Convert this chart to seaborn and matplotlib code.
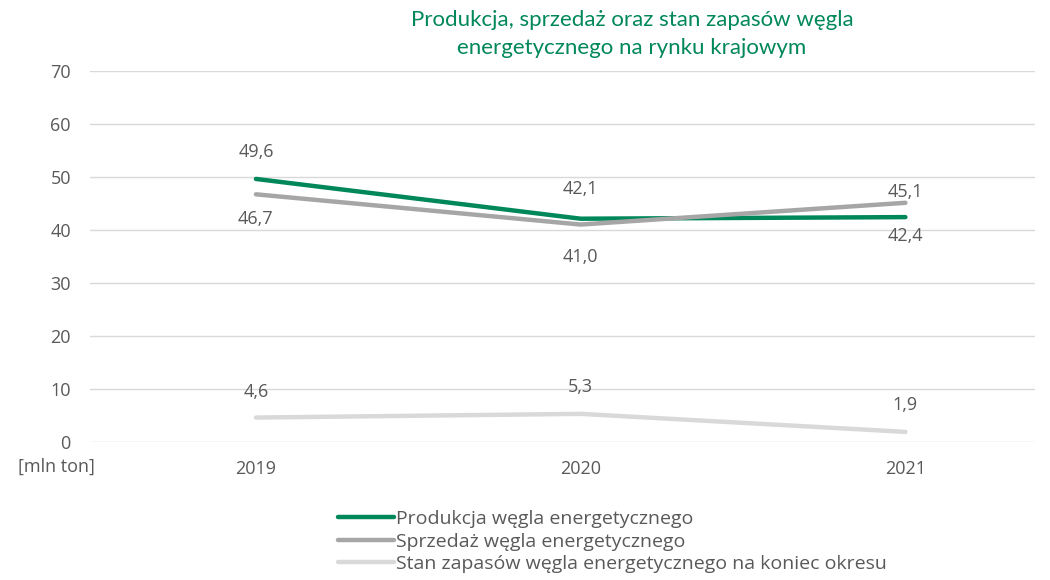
import seaborn as sns
import matplotlib.pyplot as plt
import pandas as pd

# Data
lata = ["2019", "2020", "2021"]
produkcja = [49.6, 42.1, 42.4]
sprzedaz = [46.7, 41.0, 45.1]
zapasy = [4.6, 5.3, 1.9]

serie = ["Produkcja węgla energetycznego",
         "Sprzedaż węgla energetycznego",
         "Stan zapasów węgla energetycznego na koniec okresu"]
kolory = ["#00875A", "#A6A6A6", "#D9D9D9"]

df = pd.DataFrame({
    "rok": lata * 3,
    "wartosc": produkcja + sprzedaz + zapasy,
    "seria": [serie[0]] * 3 + [serie[1]] * 3 + [serie[2]] * 3,
})

sns.set_style("white")
plt.rcParams["font.family"] = ["Open Sans", "DejaVu Sans"]
txt = "#595959"
fs = 13

fig = plt.figure(figsize=(10.5, 5.8), dpi=100)
ax = fig.add_axes([0.086, 0.238, 0.9, 0.64])

sns.lineplot(data=df, x="rok", y="wartosc", hue="seria", palette=kolory,
             linewidth=3.2, ax=ax, sort=False)

# Data labels (above / below the point)
offsets = {0: [13, 15, -7], 1: [-11, -17, 1], 2: [12, 13, 13]}
for i, vals in enumerate([produkcja, sprzedaz, zapasy]):
    for j, v in enumerate(vals):
        off = offsets[i][j]
        ax.annotate(f"{v:.1f}".replace(".", ","), (j, v), xytext=(0, off),
                    textcoords="offset points", ha="center",
                    va="bottom" if off > 0 else "top", fontsize=fs, color=txt)

ax.set_xlim(-0.51, 2.4)
ax.set_ylim(0, 70)
ax.set_yticks(range(0, 71, 10))
ax.yaxis.grid(True, color="#D9D9D9", linewidth=1)
ax.set_axisbelow(True)
for s in ax.spines.values():
    s.set_visible(False)
ax.tick_params(axis="both", length=0, labelsize=fs, colors=txt)
ax.tick_params(axis="y", pad=14)
ax.tick_params(axis="x", pad=13)
ax.set_xlabel("")
ax.set_ylabel("")
fig.text(0.054, 0.196, "[mln ton]", ha="center", va="center", fontsize=fs, color=txt)

fig.suptitle("Produkcja, sprzedaż oraz stan zapasów węgla\nenergetycznego na rynku krajowym",
             x=0.602, y=0.982, fontsize=16, color="#00875A", linespacing=1.45,
             family=["Lato", "DejaVu Sans"])

ax.legend(loc="upper left", bbox_to_anchor=(0.262, -0.183), frameon=False,
          borderaxespad=0, borderpad=0,
          handlelength=2.9, handletextpad=0.1, labelspacing=0.24, fontsize=14,
          labelcolor=txt)

plt.savefig("out.png", dpi=100)
